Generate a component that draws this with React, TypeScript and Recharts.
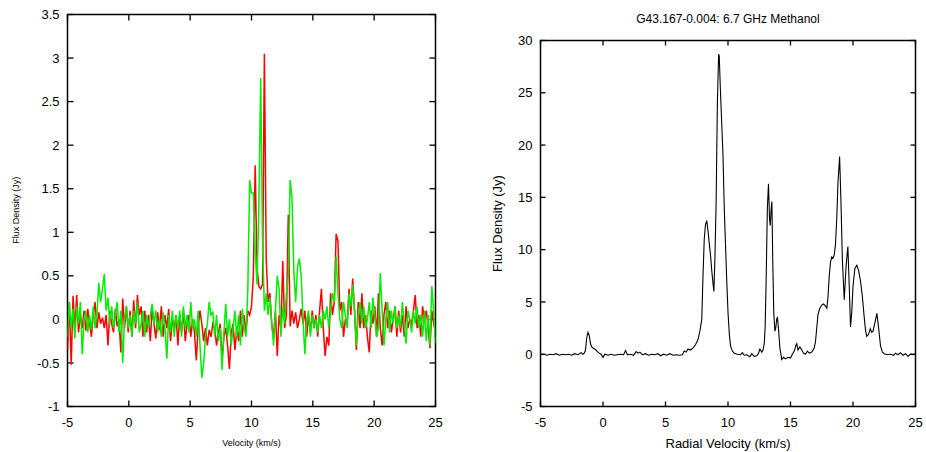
import { LineChart, Line, XAxis, YAxis, Label, ReferenceArea, ReferenceLine } from "recharts";

// ---- left panel: two noisy spectra on a common channel grid ----
const CHAN_START = -5;
const CHAN_WIDTH = 0.15;

// one row = 20 channels = 3 km/s, starting at -5, -2, 1, 4 ...
const redFlux = [
  -0.35, 0.2, -0.52, 0.27, -0.12, 0.28, -0.15, 0.05, -0.1, 0.1, -0.13, 0.12, -0.05, -0.2, 0.05, 0.2, -0.1, 0.08, -0.05, 0.02,
  -0.1, 0.05, -0.3, 0.1, -0.05, -0.15, 0.12, -0.08, 0.0, -0.38, 0.24, -0.1, 0.15, -0.15, 0.1, -0.2, 0.22, -0.1, 0.28, 0.05,
  0.15, -0.2, 0.1, -0.15, 0.05, -0.25, 0.12, -0.05, -0.22, 0.08, -0.12, 0.15, -0.2, 0.05, -0.1, 0.12, -0.25, 0.0, -0.1, 0.05,
  -0.3, 0.05, -0.15, 0.1, -0.25, -0.05, 0.05, -0.2, 0.0, -0.15, -0.47, -0.1, 0.1, -0.05, -0.25, -0.1, -0.3, -0.12, -0.2, -0.05,
  -0.1, -0.3, -0.15, -0.05, -0.47, -0.2, -0.1, -0.3, -0.57, -0.15, -0.05, -0.35, -0.1, -0.25, 0.1, -0.2, 0.05, -0.15, 0.1, 0.05,
  0.15, 0.5, 1.77, 0.6, 0.38, 0.35, 0.4, 3.05, 0.7, 0.2, 0.3, -0.05, -0.2, 0.1, -0.42, 0.05, -0.1, 0.67, -0.1, 0.05,
  1.2, -0.08, 0.1, -0.05, 0.08, -0.1, 0.0, 0.12, -0.05, 0.1, -0.2, 0.05, -0.15, 0.1, -0.1, 0.05, -0.2, 0.1, 0.35, -0.1,
  -0.42, -0.2, -0.3, 0.3, 0.05, 0.2, 0.98, 0.9, 0.1, 0.2, -0.2, 0.0, -0.05, 0.35, 0.05, 0.47, 0.1, -0.35, 0.2, -0.1,
  0.3, -0.1, 0.05, -0.2, -0.38, 0.1, -0.05, 0.15, -0.2, 0.3, -0.1, -0.3, 0.05, 0.2, -0.1, 0.1, -0.15, 0.0, 0.15, -0.2,
  0.1, -0.15, 0.05, -0.2, 0.15, -0.1, 0.0, -0.05, 0.1, 0.28, -0.1, 0.05, -0.2, 0.15, 0.0, 0.1, -0.1, -0.33, 0.1, -0.05,
  -0.15,
];

const greenFlux = [
  -0.2, 0.2, -0.1, 0.12, -0.22, 0.15, -0.05, 0.2, -0.4, 0.0, 0.1, -0.15, 0.05, -0.12, 0.15, -0.1, 0.05, 0.42, 0.2, 0.35,
  0.52, 0.1, 0.25, -0.05, 0.15, -0.1, 0.05, 0.2, -0.15, 0.1, -0.5, 0.0, 0.15, -0.1, 0.05, -0.2, 0.1, -0.05, 0.2, -0.15,
  -0.05, 0.1, -0.2, 0.05, -0.1, 0.05, 0.18, -0.05, 0.1, -0.15, 0.0, -0.2, 0.08, -0.1, -0.45, 0.05, -0.15, 0.1, -0.2, 0.05,
  -0.1, 0.1, -0.2, 0.15, -0.1, 0.05, -0.15, 0.2, -0.1, 0.0, -0.2, 0.1, -0.3, -0.67, -0.5, -0.2, -0.05, 0.2, 0.05, 0.08,
  -0.2, 0.05, -0.25, -0.1, -0.58, -0.15, 0.18, -0.2, 0.0, -0.3, -0.1, 0.1, -0.2, 0.05, -0.3, 0.12, -0.1, -0.2, 0.35, 1.6,
  1.45, 1.45, 0.8, 0.4, 1.3, 2.77, 0.9, 0.1, 0.3, 0.05, 0.25, -0.05, -0.3, 0.1, 0.5, 0.35, -0.2, 0.15, -0.05, 0.3,
  0.5, 1.6, 1.4, 0.55, 0.2, 0.6, 0.7, 0.5, 0.0, -0.4, 0.0, 0.1, -0.2, 0.05, -0.1, 0.0, -0.15, 0.05, -0.1, 0.1,
  0.0, 0.15, -0.1, 0.1, 0.3, 0.2, 0.72, 0.3, 0.0, -0.1, 0.2, 0.05, -0.1, 0.3, 0.15, 0.4, 0.1, -0.3, 0.05, 0.2,
  -0.05, 0.15, -0.1, 0.0, 0.2, -0.1, 0.25, 0.05, -0.2, -0.1, 0.53, 0.1, -0.3, 0.0, 0.2, -0.15, 0.1, -0.05, 0.15, -0.1,
  0.05, -0.1, 0.2, -0.05, -0.28, 0.1, 0.0, -0.15, 0.1, -0.05, 0.15, -0.1, 0.05, -0.2, 0.1, -0.25, 0.05, -0.3, 0.38, 0.1,
  -0.27,
];

// ---- right panel: 6.7 GHz methanol spectrum ----
const methVel = [
  -5, -4.75, -4.5, -4.25, -4, -3.75, -3.5, -3.25, -3, -2.75, -2.5, -2.25, -2, -1.75, -1.6, -1.5, -1.4, -1.3, -1.2, -1.1,
  -1.0, -0.9, -0.75, -0.6, -0.45, -0.3, -0.15, 0.0, 0.15, 0.4, 0.65, 0.9, 1.15, 1.4, 1.65, 1.8, 1.95, 2.2, 2.45, 2.65,
  2.8, 2.95, 3.15, 3.4, 3.65, 3.9, 4.15, 4.4, 4.6, 4.85, 5.1, 5.35, 5.6, 5.85, 6.1, 6.35, 6.5, 6.65, 6.8, 7.0,
  7.2, 7.4, 7.6, 7.75, 7.9, 8.0, 8.1, 8.2, 8.3, 8.4, 8.5, 8.6, 8.7, 8.8, 8.87, 8.95, 9.05, 9.15, 9.25, 9.3,
  9.4, 9.5, 9.6, 9.7, 9.8, 9.9, 10.0, 10.1, 10.2, 10.35, 10.5, 10.75, 11.0, 11.15, 11.3, 11.5, 11.75, 11.9, 12.1, 12.3,
  12.45, 12.55, 12.7, 12.8, 12.9, 12.97, 13.05, 13.15, 13.24, 13.32, 13.38, 13.45, 13.51, 13.58, 13.66, 13.75, 13.82, 13.9, 13.96, 14.05,
  14.15, 14.3, 14.45, 14.6, 14.8, 15.0, 15.15, 15.3, 15.45, 15.5, 15.6, 15.75, 15.9, 16.05, 16.2, 16.35, 16.5, 16.7, 16.9, 17.0,
  17.1, 17.2, 17.35, 17.5, 17.64, 17.8, 17.91, 18.0, 18.1, 18.2, 18.3, 18.4, 18.5, 18.6, 18.7, 18.8, 18.93, 19.05, 19.15, 19.3,
  19.45, 19.59, 19.7, 19.8, 19.9, 20.0, 20.15, 20.31, 20.45, 20.6, 20.75, 20.9, 21.0, 21.1, 21.25, 21.38, 21.5, 21.6, 21.75, 21.91,
  22.05, 22.2, 22.35, 22.5, 22.75, 23.0, 23.25, 23.4, 23.6, 23.8, 24.0, 24.2, 24.4, 24.6, 24.8, 25.0,
];

const methFlux = [
  -0.05, 0.0, -0.1, 0.0, -0.05, 0.05, -0.1, 0.0, -0.05, 0.0, -0.1, 0.05, -0.05, 0.15, 0.0, 0.1, 0.4, 1.6, 2.1, 1.8,
  1.0, 0.7, 0.55, 0.45, 0.25, 0.1, 0.0, -0.3, 0.0, -0.1, 0.0, -0.1, -0.05, 0.0, -0.05, 0.35, -0.05, 0.0, -0.1, 0.25,
  0.1, 0.2, -0.05, 0.05, -0.1, 0.0, -0.05, 0.05, -0.15, 0.0, -0.1, 0.05, -0.1, -0.05, -0.1, -0.05, 0.3, 0.2, 0.5, 0.4,
  0.6, 0.9, 1.4, 2.2, 3.3, 7.5, 11.0, 12.4, 12.77, 11.8, 10.6, 9.5, 8.0, 6.8, 6.0, 9.0, 14.5, 24.0, 28.7, 28.5,
  25.0, 22.0, 19.0, 14.0, 10.5, 7.0, 4.0, 2.0, 0.8, 0.3, 0.1, 0.0, -0.05, 0.15, -0.1, -0.05, -0.25, 0.05, -0.2, -0.15,
  0.1, 0.5, 0.2, 0.4, 1.0, 2.5, 7.0, 14.0, 16.3, 13.0, 12.3, 13.8, 14.6, 9.0, 4.0, 2.2, 2.5, 3.4, 3.5, 2.3,
  0.6, -0.5, -0.3, -0.45, -0.3, -0.35, 0.0, 0.3, 0.9, 1.0, 0.4, 0.7, 0.4, 0.1, 0.0, 0.3, 0.1, 0.2, 0.6, 1.2,
  2.5, 3.8, 4.4, 4.7, 4.8, 4.6, 4.4, 5.5, 7.5, 8.8, 9.3, 9.2, 9.5, 10.5, 13.0, 16.5, 18.9, 14.0, 9.0, 5.2,
  8.5, 10.3, 6.5, 2.6, 4.0, 6.5, 8.2, 8.5, 8.0, 7.0, 5.5, 3.5, 2.3, 1.7, 1.9, 2.45, 2.1, 2.2, 3.0, 3.9,
  2.5, 0.8, 0.2, 0.05, -0.05, 0.0, -0.1, 0.1, -0.05, 0.15, -0.1, 0.05, -0.2, 0.0, -0.05, 0.0,
];

const velTicks = [-5, 0, 5, 10, 15, 20, 25];
const leftFluxTicks = [-1, -0.5, 0, 0.5, 1, 1.5, 2, 2.5, 3, 3.5];
const rightFluxTicks = [-5, 0, 5, 10, 15, 20, 25, 30];

const leftData = redFlux.map((r, i) => ({
  v: +(CHAN_START + i * CHAN_WIDTH).toFixed(2),
  red: r,
  green: greenFlux[i],
}));
const rightData = methVel.map((v, i) => ({ v, f: methFlux[i] }));

const FONT = '"Liberation Sans", Arial, Helvetica, sans-serif';
const CH = 452;
const X_AXIS_H = 30;
const Y_AXIS_W = 40;

// plot boxes (chart-local px), edges on half pixels so the frame is crisp
const L = { w: 470, top: 14.5, right: 34.5, bottom: 15.5, left: 27.5 };
const R = { w: 456, top: 40.5, right: 10.5, bottom: 15.5, left: 30.5 };

const lPlot = {
  top: L.top,
  bottom: CH - L.bottom - X_AXIS_H,
  left: L.left + Y_AXIS_W,
  right: L.w - L.right,
};
const rPlot = {
  top: R.top,
  bottom: CH - R.bottom - X_AXIS_H,
  left: R.left + Y_AXIS_W,
  right: R.w - R.right,
};

function xTickLabel(p: any) {
  return (
    <text x={p.x} y={p.y} dy="0.71em" textAnchor="middle" fontSize={13} fontFamily={FONT} fill="#000">
      {p.payload.value}
    </text>
  );
}
function yTickLabel(p: any) {
  return (
    <text x={p.x} y={p.y} dy="0.355em" textAnchor="end" fontSize={13} fontFamily={FONT} fill="#000">
      {p.payload.value}
    </text>
  );
}

// gnuplot-style inward ticks on all four sides, drawn as short segments
function tickMarks(
  xd: number[],
  yd: number[],
  xt: number[],
  yt: number[],
  plot: { top: number; bottom: number; left: number; right: number },
  len: number
) {
  const dx = (len * (xd[1] - xd[0])) / (plot.right - plot.left);
  const dy = (len * (yd[1] - yd[0])) / (plot.bottom - plot.top);
  const common = {
    xAxisId: "b",
    yAxisId: "l",
    stroke: "#000",
    strokeWidth: 1.3,
    ifOverflow: "visible" as const,
  };
  const out: any[] = [];
  xt.forEach((t) => {
    out.push(<ReferenceLine key={`xb${t}`} {...common} segment={[{ x: t, y: yd[0] }, { x: t, y: yd[0] + dy }]} />);
    out.push(<ReferenceLine key={`xt${t}`} {...common} segment={[{ x: t, y: yd[1] }, { x: t, y: yd[1] - dy }]} />);
  });
  yt.forEach((t) => {
    out.push(<ReferenceLine key={`yl${t}`} {...common} segment={[{ x: xd[0], y: t }, { x: xd[0] + dx, y: t }]} />);
    out.push(<ReferenceLine key={`yr${t}`} {...common} segment={[{ x: xd[1], y: t }, { x: xd[1] - dx, y: t }]} />);
  });
  return out;
}

export default function App() {
  return (
    <div
      style={{
        position: "absolute",
        left: 0,
        top: 0,
        width: 926,
        height: 452,
        background: "#fff",
        fontFamily: FONT,
      }}
    >
      {/* left panel */}
      <div style={{ position: "absolute", left: 0, top: 0 }}>
        <LineChart
          width={L.w}
          height={CH}
          data={leftData}
          margin={{ top: L.top, right: L.right, bottom: L.bottom, left: L.left }}
        >
          <XAxis
            xAxisId="b"
            dataKey="v"
            type="number"
            domain={[-5, 25]}
            ticks={velTicks}
            interval={0}
            allowDataOverflow
            height={X_AXIS_H}
            axisLine={false}
            tickLine={false}
            tickSize={0}
            tickMargin={11}
            tick={xTickLabel}
          >
            <Label
              content={() => (
                <text x={251.5} y={446} textAnchor="middle" fontSize={9} fontFamily={FONT} fill="#000">
                  Velocity (km/s)
                </text>
              )}
            />
          </XAxis>
          <YAxis
            yAxisId="l"
            type="number"
            domain={[-1, 3.5]}
            ticks={leftFluxTicks}
            interval={0}
            allowDataOverflow
            width={Y_AXIS_W}
            axisLine={false}
            tickLine={false}
            tickSize={0}
            tickMargin={8}
            tick={yTickLabel}
          >
            <Label
              content={() => (
                <text
                  x={16.5}
                  y={210.3}
                  transform="rotate(-90 16.5 210.3)"
                  textAnchor="middle"
                  dominantBaseline="central"
                  fontSize={9}
                  fontFamily={FONT}
                  fill="#000"
                >
                  Flux Density (Jy)
                </text>
              )}
            />
          </YAxis>
          <ReferenceArea
            xAxisId="b"
            yAxisId="l"
            x1={-5}
            x2={25}
            y1={-1}
            y2={3.5}
            fill="none"
            fillOpacity={0}
            stroke="#000"
            strokeWidth={1.5}
            ifOverflow="visible"
          />
          {tickMarks([-5, 25], [-1, 3.5], velTicks, leftFluxTicks, lPlot, 6)}
          <Line
            xAxisId="b"
            yAxisId="l"
            type="linear"
            dataKey="red"
            stroke="#ff0000"
            strokeWidth={1.5}
            dot={false}
            isAnimationActive={false}
          />
          <Line
            xAxisId="b"
            yAxisId="l"
            type="linear"
            dataKey="green"
            stroke="#00ee00"
            strokeWidth={1.5}
            dot={false}
            isAnimationActive={false}
          />
        </LineChart>
      </div>

      {/* right panel */}
      <div style={{ position: "absolute", left: 470, top: 0 }}>
        <LineChart
          width={R.w}
          height={CH}
          data={rightData}
          margin={{ top: R.top, right: R.right, bottom: R.bottom, left: R.left }}
        >
          <XAxis
            xAxisId="b"
            dataKey="v"
            type="number"
            domain={[-5, 25]}
            ticks={velTicks}
            interval={0}
            allowDataOverflow
            height={X_AXIS_H}
            axisLine={false}
            tickLine={false}
            tickSize={0}
            tickMargin={11}
            tick={xTickLabel}
          >
            <Label
              content={() => (
                <text x={258} y={447.5} textAnchor="middle" fontSize={13} fontFamily={FONT} fill="#000">
                  Radial Velocity (km/s)
                </text>
              )}
            />
          </XAxis>
          <YAxis
            yAxisId="l"
            type="number"
            domain={[-5, 30]}
            ticks={rightFluxTicks}
            interval={0}
            allowDataOverflow
            width={Y_AXIS_W}
            axisLine={false}
            tickLine={false}
            tickSize={0}
            tickMargin={8}
            tick={yTickLabel}
          >
            <Label
              content={() => (
                <g>
                  <text
                    x={27}
                    y={223.5}
                    transform="rotate(-90 27 223.5)"
                    textAnchor="middle"
                    dominantBaseline="central"
                    fontSize={13}
                    fontFamily={FONT}
                    fill="#000"
                  >
                    Flux Density (Jy)
                  </text>
                  <text x={258} y={23} textAnchor="middle" fontSize={12} fontFamily={FONT} fill="#000">
                    G43.167-0.004: 6.7 GHz Methanol
                  </text>
                </g>
              )}
            />
          </YAxis>
          <ReferenceArea
            xAxisId="b"
            yAxisId="l"
            x1={-5}
            x2={25}
            y1={-5}
            y2={30}
            fill="none"
            fillOpacity={0}
            stroke="#000"
            strokeWidth={1.5}
            ifOverflow="visible"
          />
          {tickMarks([-5, 25], [-5, 30], velTicks, rightFluxTicks, rPlot, 5)}
          <Line
            xAxisId="b"
            yAxisId="l"
            type="linear"
            dataKey="f"
            stroke="#000"
            strokeWidth={1.1}
            dot={false}
            isAnimationActive={false}
          />
        </LineChart>
      </div>
    </div>
  );
}
